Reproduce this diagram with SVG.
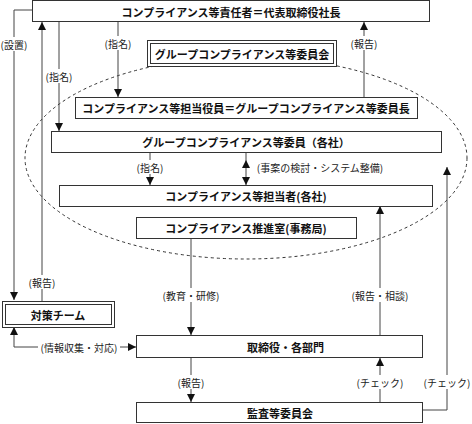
<svg xmlns="http://www.w3.org/2000/svg" width="472" height="424" viewBox="0 0 472 424">
<defs>
<marker id="ah" markerWidth="8" markerHeight="8" refX="8" refY="4" orient="auto-start-reverse" markerUnits="userSpaceOnUse">
<path d="M0,0 L8,4 L0,8 z" fill="#111"/>
</marker>
<style>
.box{fill:#fff;stroke:#333;stroke-width:1}
.t{font-family:"Noto Sans CJK JP","Noto Sans",sans-serif;font-size:11px;font-weight:bold;fill:#111;text-anchor:middle;dominant-baseline:central}
.l{font-family:"Noto Sans CJK JP","Noto Sans",sans-serif;font-size:10px;fill:#222;text-anchor:middle;dominant-baseline:central}
.ln{fill:none;stroke:#444;stroke-width:1}
.a{marker-end:url(#ah)}
.bg{fill:#fff}
</style>
</defs>
<ellipse cx="246" cy="158" rx="221" ry="101" fill="none" stroke="#333" stroke-width="1" stroke-dasharray="3,3"/>
<g id="connectors">
<polyline class="ln a" points="32,10 14,10 14,300"/>
<line class="ln a" x1="42" y1="301" x2="42" y2="22"/>
<line class="ln a" x1="59" y1="22" x2="59" y2="131"/>
<line class="ln a" x1="118" y1="22" x2="118" y2="97"/>
<line class="ln a" x1="364" y1="97" x2="364" y2="22"/>
<line class="ln a" x1="150" y1="152" x2="150" y2="185"/>
<line class="ln a" x1="246" y1="160" x2="246" y2="185" style="marker-start:url(#ah)"/>
<line class="ln" x1="246" y1="152" x2="246" y2="160"/>
<line class="ln a" x1="191" y1="239" x2="191" y2="335"/>
<line class="ln a" x1="380" y1="335" x2="380" y2="206"/>
<polyline class="ln a" points="423,410 447,410 447,167"/>
<line class="ln a" x1="380" y1="402" x2="380" y2="358"/>
<line class="ln a" x1="191" y1="358" x2="191" y2="402"/>
<polyline class="ln a" points="14,347 14,327" />
<polyline class="ln a" points="14,347 136,347"/>
<rect class="bg" x="1" y="37" width="27" height="14"/>
<text class="l" x="14" y="44">(設置)</text>
<rect class="bg" x="29" y="275" width="27" height="14"/>
<text class="l" x="42" y="282">(報告)</text>
<rect class="bg" x="46" y="69" width="27" height="14"/>
<text class="l" x="59" y="76">(指名)</text>
<rect class="bg" x="105" y="36" width="27" height="14"/>
<text class="l" x="118" y="43">(指名)</text>
<rect class="bg" x="351" y="36" width="27" height="14"/>
<text class="l" x="364" y="43">(報告)</text>
<rect class="bg" x="137" y="160" width="27" height="14"/>
<text class="l" x="150" y="167">(指名)</text>
<text class="l" x="320" y="167">(事案の検討・システム整備)</text>
<rect class="bg" x="160" y="288" width="62" height="14"/>
<text class="l" x="191" y="295">(教育・研修)</text>
<rect class="bg" x="349" y="288" width="62" height="14"/>
<text class="l" x="380" y="295">(報告・相談)</text>
<rect class="bg" x="38" y="340" width="82" height="14"/>
<text class="l" x="79" y="347">(情報収集・対応)</text>
<rect class="bg" x="178" y="375" width="27" height="14"/>
<text class="l" x="191" y="382">(報告)</text>
<rect class="bg" x="355" y="375" width="50" height="14"/>
<text class="l" x="380" y="382">(チェック)</text>
<rect class="bg" x="422" y="375" width="50" height="14"/>
<text class="l" x="447" y="382">(チェック)</text>
</g>
<g id="n-top">
<rect class="box" x="32.5" y="0.5" width="397" height="21"/>
<text class="t" x="231" y="11.5">コンプライアンス等責任者＝代表取締役社長</text>
</g>
<g id="n-group-committee">
<rect class="box" x="147.5" y="40.5" width="189" height="26"/>
<rect class="box" x="150.5" y="43.5" width="183" height="20"/>
<text class="t" x="242" y="53.5">グループコンプライアンス等委員会</text>
</g>
<g id="n-officer">
<rect class="box" x="75.5" y="97.5" width="342" height="21"/>
<text class="t" x="246" y="108">コンプライアンス等担当役員＝グループコンプライアンス等委員長</text>
</g>
<g id="n-members">
<rect class="box" x="51.5" y="131.5" width="390" height="21"/>
<text class="t" x="246" y="142">グループコンプライアンス等委員（各社）</text>
</g>
<g id="n-persons">
<rect class="box" x="59.5" y="185.5" width="373" height="21"/>
<text class="t" x="246" y="196">コンプライアンス等担当者(各社)</text>
</g>
<g id="n-office">
<rect class="box" x="136.5" y="217.5" width="220" height="21"/>
<text class="t" x="246" y="228">コンプライアンス推進室(事務局)</text>
</g>
<g id="n-team">
<rect class="box" x="2.5" y="301.5" width="112" height="26"/>
<rect class="box" x="5.5" y="304.5" width="106" height="20"/>
<text class="t" x="58" y="314.5">対策チーム</text>
</g>
<g id="n-directors">
<rect class="box" x="136.5" y="335.5" width="286" height="22"/>
<text class="t" x="247" y="346.5" style="text-anchor:start">取締役・各部門</text>
</g>
<g id="n-audit">
<rect class="box" x="136.5" y="402.5" width="286" height="20"/>
<text class="t" x="247" y="412.5" style="text-anchor:start">監査等委員会</text>
</g>
</svg>
